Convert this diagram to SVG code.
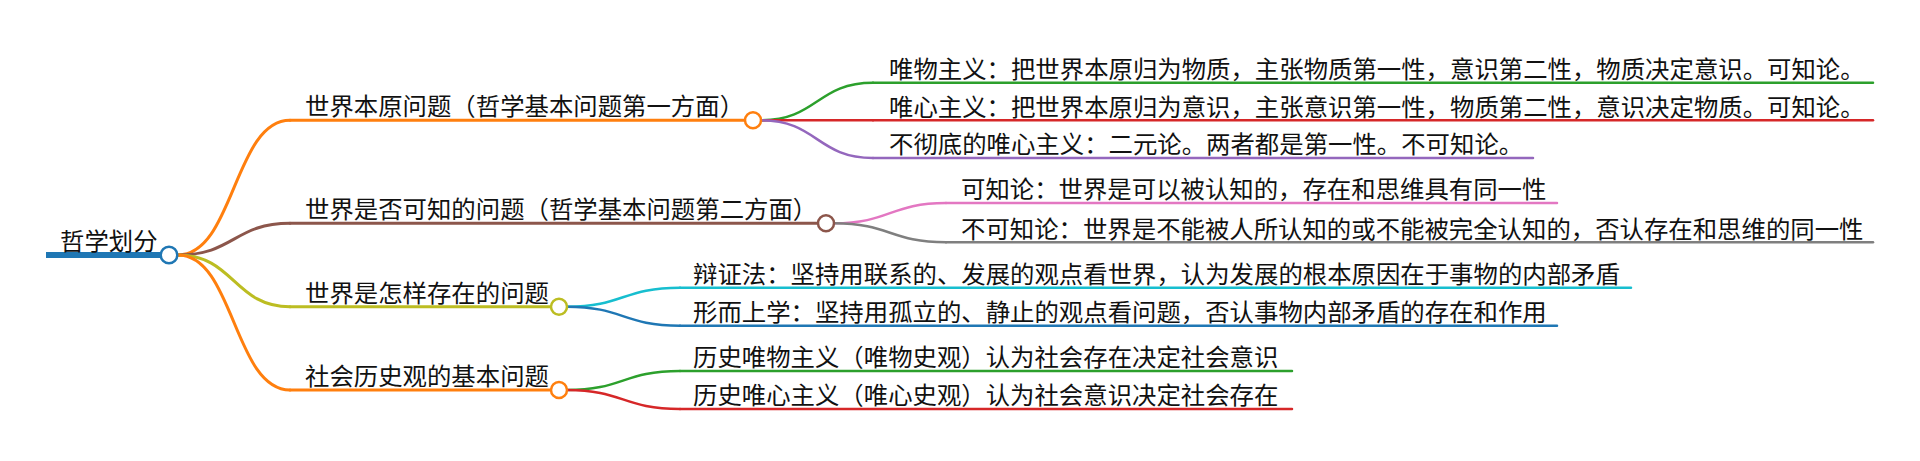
<svg xmlns="http://www.w3.org/2000/svg" width="1920" height="461" viewBox="0 0 1920 461">
<style>
  text { font-family: "Noto Sans CJK SC", "Noto Sans", sans-serif; font-size: 24.4px; fill: #111; }
  .ln { fill: none; stroke-linecap: round; }
  .b { stroke-width: 3; }
  .lf { stroke-width: 2.5; }
  circle { fill: #fff; stroke-width: 2.5; }
</style>
<rect width="1920" height="461" fill="#fff"/>
<g id="connectors" class="ln">
  <path class="b" d="M178 255 C234 255 234 120.3 290 120.3" stroke="#ff7f0e"/>
  <path class="b" d="M178 255 C234 255 234 223.3 290 223.3" stroke="#8c564b"/>
  <path class="b" d="M178 255 C234 255 234 306.7 290 306.7" stroke="#bcbd22"/>
  <path class="b" d="M178 255 C234 255 234 390 290 390" stroke="#ff7f0e"/>
  <path class="lf" d="M761 120.3 C817 120.3 817 82.7 873 82.7" stroke="#2ca02c"/>
  <path class="lf" d="M761 120.3 L873 120.3" stroke="#d62728"/>
  <path class="lf" d="M761 120.3 C817 120.3 817 158 873 158" stroke="#9467bd"/>
  <path class="lf" d="M834 223.3 C890 223.3 890 203 946 203" stroke="#e377c2"/>
  <path class="lf" d="M834 223.3 C890 223.3 890 242.3 946 242.3" stroke="#7f7f7f"/>
  <path class="lf" d="M567 306.7 C623 306.7 623 287.7 680 287.7" stroke="#17becf"/>
  <path class="lf" d="M567 306.7 C623 306.7 623 325.7 680 325.7" stroke="#1f77b4"/>
  <path class="lf" d="M567 390 C623 390 623 371 680 371" stroke="#2ca02c"/>
  <path class="lf" d="M567 390 C623 390 623 409 680 409" stroke="#d62728"/>
</g>
<g id="root">
  <line x1="46" y1="255" x2="169" y2="255" stroke="#1f77b4" stroke-width="6"/>
  <text x="60" y="250">哲学划分</text>
  <circle cx="169" cy="255" r="8.3" stroke="#1f77b4" stroke-width="3"/>
</g>
<g id="b1">
  <line class="ln b" x1="290" y1="120.3" x2="753" y2="120.3" stroke="#ff7f0e"/>
  <text x="305" y="115">世界本原问题（哲学基本问题第一方面）</text>
  <circle cx="753" cy="120.3" r="8" stroke="#ff7f0e"/>
</g>
<g id="b2">
  <line class="ln b" x1="290" y1="223.3" x2="826" y2="223.3" stroke="#8c564b"/>
  <text x="305" y="218">世界是否可知的问题（哲学基本问题第二方面）</text>
  <circle cx="826" cy="223.3" r="8" stroke="#8c564b"/>
</g>
<g id="b3">
  <line class="ln b" x1="290" y1="306.7" x2="559" y2="306.7" stroke="#bcbd22"/>
  <text x="305" y="302">世界是怎样存在的问题</text>
  <circle cx="559" cy="306.7" r="8" stroke="#bcbd22"/>
</g>
<g id="b4">
  <line class="ln b" x1="290" y1="390" x2="559" y2="390" stroke="#ff7f0e"/>
  <text x="305" y="385">社会历史观的基本问题</text>
  <circle cx="559" cy="390" r="8" stroke="#ff7f0e"/>
</g>
<g id="l1">
  <line class="ln lf" x1="873" y1="82.7" x2="1873" y2="82.7" stroke="#2ca02c"/>
  <text x="889" y="78">唯物主义：把世界本原归为物质，主张物质第一性，意识第二性，物质决定意识。可知论。</text>
</g>
<g id="l2">
  <line class="ln lf" x1="873" y1="120.3" x2="1873" y2="120.3" stroke="#d62728"/>
  <text x="889" y="115.5">唯心主义：把世界本原归为意识，主张意识第一性，物质第二性，意识决定物质。可知论。</text>
</g>
<g id="l3">
  <line class="ln lf" x1="873" y1="158" x2="1533" y2="158" stroke="#9467bd"/>
  <text x="889" y="153">不彻底的唯心主义：二元论。两者都是第一性。不可知论。</text>
</g>
<g id="l4">
  <line class="ln lf" x1="946" y1="203" x2="1557" y2="203" stroke="#e377c2"/>
  <text x="961" y="198">可知论：世界是可以被认知的，存在和思维具有同一性</text>
</g>
<g id="l5">
  <line class="ln lf" x1="946" y1="242.3" x2="1873" y2="242.3" stroke="#7f7f7f"/>
  <text x="961" y="237.5">不可知论：世界是不能被人所认知的或不能被完全认知的，否认存在和思维的同一性</text>
</g>
<g id="l6">
  <line class="ln lf" x1="680" y1="287.7" x2="1631" y2="287.7" stroke="#17becf"/>
  <text x="693" y="283">辩证法：坚持用联系的、发展的观点看世界，认为发展的根本原因在于事物的内部矛盾</text>
</g>
<g id="l7">
  <line class="ln lf" x1="680" y1="325.7" x2="1557" y2="325.7" stroke="#1f77b4"/>
  <text x="693" y="321">形而上学：坚持用孤立的、静止的观点看问题，否认事物内部矛盾的存在和作用</text>
</g>
<g id="l8">
  <line class="ln lf" x1="680" y1="371" x2="1292" y2="371" stroke="#2ca02c"/>
  <text x="693" y="366">历史唯物主义（唯物史观）认为社会存在决定社会意识</text>
</g>
<g id="l9">
  <line class="ln lf" x1="680" y1="409" x2="1292" y2="409" stroke="#d62728"/>
  <text x="693" y="404">历史唯心主义（唯心史观）认为社会意识决定社会存在</text>
</g>
</svg>
